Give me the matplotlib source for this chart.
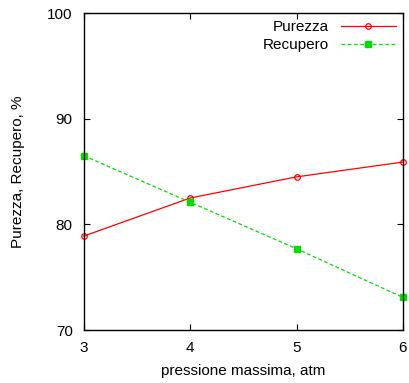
import matplotlib
matplotlib.use("Agg")
import matplotlib.pyplot as plt

pressione = [3, 4, 5, 6]
purezza = [78.9, 82.5, 84.5, 85.9]
recupero = [86.5, 82.1, 77.7, 73.1]

plt.rcParams["font.family"] = ["Liberation Sans", "DejaVu Sans"]
plt.rcParams["font.size"] = 11

fig = plt.figure(figsize=(4.09, 3.83), dpi=100)
ax = fig.add_axes([0.205, 0.138, 0.78, 0.828])

ax.plot(pressione, purezza, color="#ff0000", linewidth=0.9, marker="o", markersize=4,
        markerfacecolor="none", markeredgecolor="#ff0000", markeredgewidth=0.9,
        label="Purezza", clip_on=False)
ax.plot(pressione, recupero, color="#00dd00", linewidth=0.9, linestyle=(0, (3, 2)),
        marker="s", markersize=4, markerfacecolor="#00dd00", markeredgecolor="#00dd00",
        label="Recupero", clip_on=False)

ax.set_xlim(3, 6)
ax.set_ylim(70, 100)
ax.set_xticks([3, 4, 5, 6])
ax.set_yticks([70, 80, 90, 100])
ax.tick_params(direction="in", top=True, right=True, length=4, width=0.8, pad=8)
for s in ax.spines.values():
    s.set_linewidth(1.0)

ax.set_xlabel("pressione massima, atm", labelpad=6)
ax.set_ylabel("Purezza, Recupero, %", labelpad=16)

leg = ax.legend(loc="upper right", frameon=False, markerfirst=False, handlelength=3.6,
                borderaxespad=0.1, labelspacing=0.3, handletextpad=0.8,
                borderpad=0.35)
for t in leg.get_texts():
    t.set_ha("right")
leg._legend_box.align = "right"

fig.savefig("out.png", dpi=100)
